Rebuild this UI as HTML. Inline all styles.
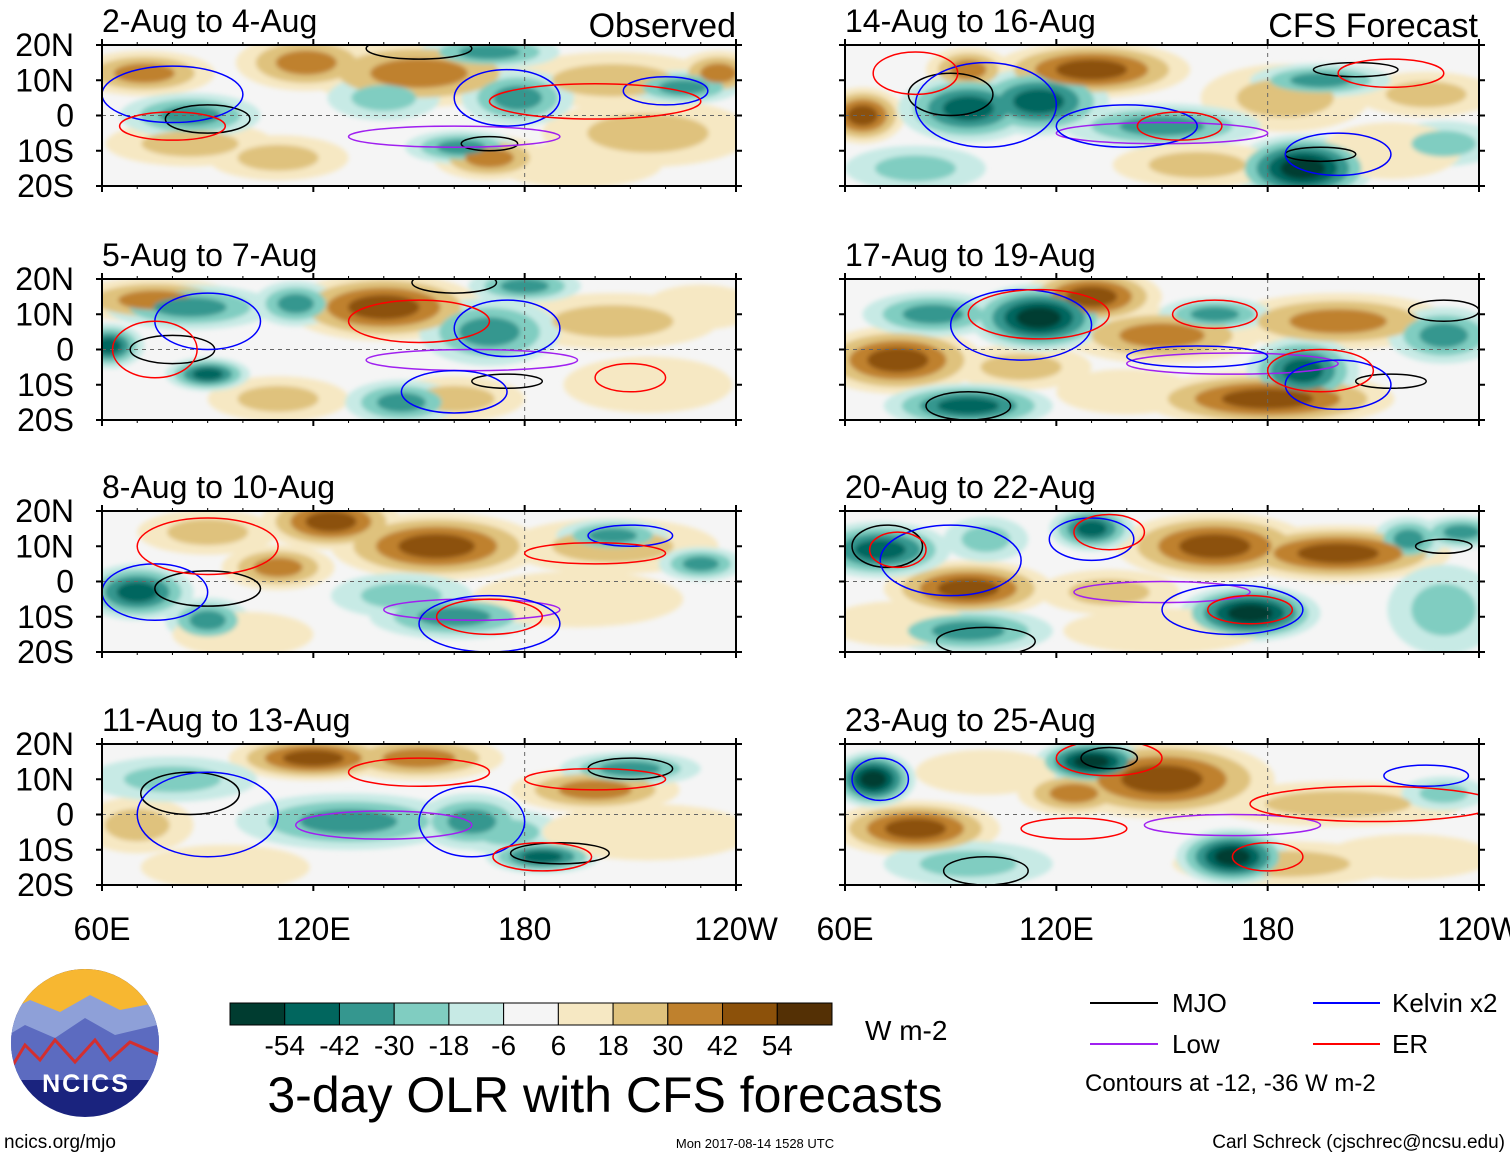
<!DOCTYPE html>
<html><head><meta charset="utf-8"><style>
html,body{margin:0;padding:0;background:#fff;}
svg{display:block;font-family:"Liberation Sans",sans-serif;}
</style></head><body>
<svg id="chart" width="1510" height="1158" viewBox="0 0 1510 1158" xmlns="http://www.w3.org/2000/svg">
<defs><filter id="soft" x="-10%" y="-10%" width="120%" height="120%"><feGaussianBlur stdDeviation="2.5"/></filter></defs>
<g id="panels"></g>
<g id="colorbar"></g>
<g>
 <clipPath id="lc"><circle cx="85" cy="1043" r="74"/></clipPath>
 <g clip-path="url(#lc)">
  <rect x="0" y="960" width="180" height="170" fill="#1a237e"/>
  <rect x="0" y="960" width="180" height="55" fill="#f7b731"/>
  <path d="M0 1015 L30 1000 L60 1012 L90 995 L120 1010 L170 1000 L170 1080 L0 1080Z" fill="#8ea0d8"/>
  <path d="M0 1040 L25 1025 L55 1038 L85 1018 L115 1035 L170 1022 L170 1080 L0 1080Z" fill="#5c6bc0"/>
  <path d="M10 1070 L25 1045 L40 1060 L55 1040 L75 1062 L95 1040 L110 1060 L130 1042 L160 1055" fill="none" stroke="#d32f2f" stroke-width="3"/>
 </g>
 <text x="86" y="1092" font-size="25" font-weight="bold" fill="#fff" text-anchor="middle" letter-spacing="2">NCICS</text>
</g>
<text x="605" y="1112" font-size="50" text-anchor="middle">3-day OLR with CFS forecasts</text>
<text x="865" y="1040" font-size="28">W m-2</text>
<g font-size="26">
 <line x1="1090" y1="1003" x2="1158" y2="1003" stroke="#000" stroke-width="2"/><text x="1172" y="1012">MJO</text>
 <line x1="1090" y1="1044" x2="1158" y2="1044" stroke="#a020f0" stroke-width="2"/><text x="1172" y="1053">Low</text>
 <line x1="1313" y1="1003" x2="1380" y2="1003" stroke="#0000ff" stroke-width="2"/><text x="1392" y="1012">Kelvin x2</text>
 <line x1="1313" y1="1044" x2="1380" y2="1044" stroke="#ff0000" stroke-width="2"/><text x="1392" y="1053">ER</text>
 <text x="1085" y="1091" font-size="24">Contours at -12, -36 W m-2</text>
</g>
<text x="4" y="1148" font-size="19">ncics.org/mjo</text>
<text x="755" y="1148" font-size="13" text-anchor="middle">Mon 2017-08-14 1528 UTC</text>
<text x="1505" y="1148" font-size="19" text-anchor="end">Carl Schreck (cjschrec@ncsu.edu)</text>
</svg>
<script>
const levelLabels=["-54","-42","-30","-18","-6","6","18","30","42","54"];
const levelColors=["#003c30","#01665e","#35978f","#80cdc1","#c7eae5","#f5f5f5","#f6e8c3","#dfc27d","#bf812d","#8c510a","#543005"];
const levelValues=[-60,-48,-36,-24,-12,0,12,24,36,48,60];
const lonTicks=[60,120,180,240];
const lonTickLabels=["60E","120E","180","120W"];
const latTicks=[20,10,0,-10,-20];
const latTickLabels=["20N","10N","0","10S","20S"];
const panelTitles=["2-Aug to 4-Aug","5-Aug to 7-Aug","8-Aug to 10-Aug","11-Aug to 13-Aug","14-Aug to 16-Aug","17-Aug to 19-Aug","20-Aug to 22-Aug","23-Aug to 25-Aug"];
// blobs: [lon, lat, rxDeg, ryDeg, value W m-2]
const blobs0=[[72,12,10,4,30],[118,15,10,5,30],[150,12,16,6,36],[235,12,6,4,30],[85,-8,12,4,24],[170,-12,8,4,36],[215,-5,15,6,18],[205,10,15,5,18],[85,0,10,4,-36],[170,18,10,3,-36],[178,5,8,5,-36],[225,8,8,3,-30],[162,-9,8,3,-30],[140,5,8,4,-18],[110,-12,10,4,18],[195,-14,12,4,12]];
const blobs1=[[75,14,12,4,36],[140,12,14,6,42],[110,-14,10,4,18],[205,8,15,5,18],[160,-14,10,4,18],[62,1,5,4,-42],[85,12,12,4,-36],[90,-7,6,3,-42],[170,5,10,6,-30],[180,18,8,3,-30],[145,-15,8,4,-36],[115,13,6,4,-30],[215,-10,12,5,12],[230,12,8,4,12]];
const blobs2=[[125,17,10,5,48],[155,10,15,6,42],[90,14,10,4,24],[110,4,8,4,30],[205,10,15,5,18],[70,-3,8,5,-42],[90,-11,6,4,-30],[160,-10,12,4,-30],[205,13,8,3,-36],[230,5,6,3,-30],[145,-4,10,4,-24],[195,-5,15,5,12],[100,-15,10,4,12]];
const blobs3=[[120,16,12,4,42],[150,16,12,4,36],[70,-3,8,5,18],[200,7,12,4,36],[185,-12,8,3,-42],[210,13,10,3,-36],[130,-2,16,5,-36],[165,-2,8,5,-36],[80,10,12,4,-24],[175,-5,8,4,-24],[215,-5,15,5,12],[95,-15,12,4,12]];
const blobs4=[[65,0,6,5,42],[130,13,14,5,48],[95,13,6,4,36],[185,5,12,6,24],[225,6,10,4,24],[95,2,10,6,-42],[115,4,10,6,-48],[150,-3,14,4,-36],[195,10,10,3,-36],[190,-15,10,6,-54],[230,-8,8,4,-24],[80,-15,10,4,-24],[160,-14,12,4,18],[215,-10,10,5,12]];
const blobs5=[[75,-3,12,6,48],[130,15,10,5,42],[150,4,14,5,30],[200,8,16,5,36],[180,-14,18,5,42],[110,-5,10,4,24],[115,9,10,6,-54],[85,10,10,4,-36],[190,-6,8,6,-48],[230,4,8,5,-36],[95,-16,12,4,-48],[165,10,8,3,-30],[140,-12,10,4,12]];
const blobs6=[[95,-2,12,5,42],[165,10,14,6,42],[200,8,16,5,42],[135,-3,10,4,18],[70,9,10,5,-42],[130,15,6,4,-42],[175,-9,10,5,-54],[220,12,5,4,-30],[235,14,6,3,-36],[230,-8,8,8,-18],[95,-14,12,4,-30],[100,12,6,4,-18],[150,-14,14,4,12],[75,-12,10,4,12]];
const blobs7=[[80,-4,12,5,42],[150,10,16,7,48],[200,3,18,4,24],[125,6,8,4,30],[185,-14,16,4,24],[68,10,6,5,-54],[130,15,8,4,-54],[170,-12,8,5,-54],[95,-14,12,4,-18],[230,6,6,3,-18],[220,-12,12,4,12],[100,12,10,4,12]];
// contours: [lon, lat, rxDeg, ryDeg, type] type: 0 MJO,1 Low,2 Kelvin,3 ER
const cont0=[[90,-1,12,4,0],[170,-8,8,2,0],[150,19,15,3,0],[160,-6,30,3,1],[80,6,20,8,2],[175,5,15,8,2],[220,7,12,4,2],[80,-3,15,4,3],[200,4,30,5,3]];
const cont1=[[80,0,12,4,0],[175,-9,10,2,0],[160,19,12,3,0],[165,-3,30,3,1],[90,8,15,8,2],[160,-12,15,6,2],[175,6,15,8,2],[75,0,12,8,3],[210,-8,10,4,3],[150,8,20,6,3]];
const cont2=[[90,-2,15,5,0],[165,-8,25,3,1],[75,-3,15,8,2],[170,-12,20,8,2],[210,13,12,3,2],[90,10,20,8,3],[170,-10,15,5,3],[200,8,20,3,3]];
const cont3=[[85,6,14,6,0],[210,13,12,3,0],[190,-11,14,3,0],[140,-3,25,4,1],[90,0,20,12,2],[165,-2,15,10,2],[185,-12,14,4,3],[150,12,20,4,3],[200,10,20,3,3]];
const cont4=[[90,6,12,6,0],[205,13,12,2,0],[195,-11,10,2,0],[150,-5,30,3,1],[100,3,20,12,2],[140,-3,20,6,2],[200,-11,15,6,2],[215,12,15,4,3],[155,-3,12,4,3],[80,12,12,6,3]];
const cont5=[[95,-16,12,4,0],[215,-9,10,2,0],[230,11,10,3,0],[170,-4,30,3,1],[110,7,20,10,2],[200,-10,15,7,2],[160,-2,20,3,2],[115,10,20,7,3],[195,-6,15,6,3],[165,10,12,4,3]];
const cont6=[[72,10,10,6,0],[100,-17,14,4,0],[230,10,8,2,0],[150,-3,25,3,1],[90,6,20,10,2],[170,-8,20,7,2],[130,12,12,6,2],[135,14,10,5,3],[175,-8,12,4,3],[75,9,8,5,3]];
const cont7=[[100,-16,12,4,0],[135,16,8,3,0],[170,-3,25,3,1],[70,10,8,6,2],[225,11,12,3,2],[135,16,15,5,3],[180,-12,10,4,3],[210,3,35,5,3],[125,-4,15,3,3]];
const allBlobs=[blobs0,blobs1,blobs2,blobs3,blobs4,blobs5,blobs6,blobs7];
const allConts=[cont0,cont1,cont2,cont3,cont4,cont5,cont6,cont7];
const contColors=["#000000","#a020f0","#0000ff","#ff0000"];
const NS="http://www.w3.org/2000/svg";
function mk(t,a,p){const e=document.createElementNS(NS,t);for(const k in a)e.setAttribute(k,a[k]);if(p)p.appendChild(e);return e;}
function colorFor(v){let i=0;while(i<levelValues.length-1&&v>levelValues[i]+6)i++;return levelColors[i];}
const panelsG=document.getElementById('panels');
const rowsY=[45,279,511,744],colsX=[102,845],W=634,H=141;
for(let p=0;p<8;p++){
 const col=p<4?0:1,row=p%4;const x0=colsX[col],y0=rowsY[row];
 const xs=lon=>x0+(lon-60)/180*W, ys=lat=>y0+(20-lat)/40*H, sx=d=>d/180*W*2, sy=d=>d/40*H*1.6;
 const g=mk('g',{},panelsG);
 
 
 const cp=mk('clipPath',{id:'cp'+p},g);mk('rect',{x:x0,y:y0,width:W,height:H},cp);
 const inner=mk('g',{'clip-path':'url(#cp'+p+')'},g);
 mk('rect',{x:x0,y:y0,width:W,height:H,fill:'#f5f5f5'},inner);
 const fg=mk('g',{filter:'url(#soft)'},inner);
 // draw outer levels of all blobs first, then inner
 const maxN=5;
 for(let k=0;k<maxN;k++){
  allBlobs[p].forEach(b=>{
   const v=b[4],n=Math.round(Math.abs(v)/12);const sgn=Math.sign(v);
   if(k>=n)return;
   const f=1-k/n*0.85;
   const e=mk('ellipse',{cx:xs(b[0]),cy:ys(b[1]),rx:sx(b[2])*f,ry:sy(b[3])*f,fill:colorFor(sgn*12*(k+1))},fg);
   
   
  });
 }
 mk('line',{x1:xs(180),y1:y0,x2:xs(180),y2:y0+H,stroke:'#666','stroke-dasharray':'4,4','stroke-width':1},inner);
 mk('line',{x1:x0,y1:ys(0),x2:x0+W,y2:ys(0),stroke:'#666','stroke-dasharray':'4,4','stroke-width':1},inner);
 allConts[p].forEach(c=>{
  const e=mk('ellipse',{cx:xs(c[0]),cy:ys(c[1]),rx:sx(c[2])/2,ry:sy(c[3])/1.6,fill:'none',stroke:contColors[c[4]],'stroke-width':1.5},inner);
  
  
 });
 mk('rect',{x:x0,y:y0,width:W,height:H,fill:'none',stroke:'#000','stroke-width':2},g);
 for(let lon=60;lon<=240;lon+=10){const big=lonTicks.includes(lon);
  mk('line',{x1:xs(lon),y1:y0+H,x2:xs(lon),y2:y0+H+(big?6:3),stroke:'#000','stroke-width':big?2:1},g);
  mk('line',{x1:xs(lon),y1:y0,x2:xs(lon),y2:y0-(big?6:3),stroke:'#000','stroke-width':big?2:1},g);}
 latTicks.forEach(l=>{mk('line',{x1:x0-6,y1:ys(l),x2:x0,y2:ys(l),stroke:'#000','stroke-width':2},g);mk('line',{x1:x0+W,y1:ys(l),x2:x0+W+6,y2:ys(l),stroke:'#000','stroke-width':2},g);});
 const t=mk('text',{x:x0,y:y0-13,'font-size':32},g);t.textContent=panelTitles[p];
 
 
 if(col===0){latTicks.forEach((l,i)=>{const tt=mk('text',{x:74,y:ys(l)+11,'font-size':32,'text-anchor':'end'},g);tt.textContent=latTickLabels[i];
  
  });}
 if(row===3){lonTicks.forEach((l,i)=>{const tt=mk('text',{x:xs(l),y:y0+H+55,'font-size':32,'text-anchor':'middle'},g);tt.textContent=lonTickLabels[i];
  
  });}
}
let t1=mk('text',{x:736,y:37,'font-size':34,'text-anchor':'end'},panelsG);t1.textContent='Observed';


let t2=mk('text',{x:1478,y:37,'font-size':34,'text-anchor':'end'},panelsG);t2.textContent='CFS Forecast';


const cb=document.getElementById('colorbar');const bw=(832-230)/levelColors.length;
levelColors.forEach((c,i)=>{const r=mk('rect',{x:230+i*bw,y:1003,width:bw,height:22,fill:c,stroke:'#000','stroke-width':1},cb);
 
 });
levelLabels.forEach((s,i)=>{const t=mk('text',{x:230+(i+1)*bw,y:1055,'font-size':28,'text-anchor':'middle'},cb);t.textContent=s;
 
 });
</script>
</body></html>
